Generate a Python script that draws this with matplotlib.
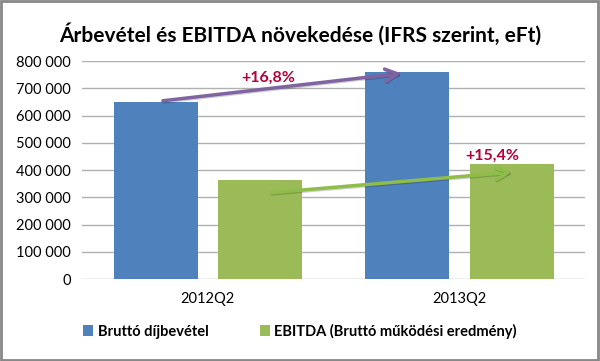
import matplotlib.pyplot as plt
import matplotlib.patheffects as pe
from matplotlib.patches import Rectangle

# adatok
categories = ["2012Q2", "2013Q2"]
revenue = [651000, 760000]
ebitda = [365000, 421000]
series_names = ["Bruttó díjbevétel", "EBITDA (Bruttó működési eredmény)"]
growth_labels = ["+16,8%", "+15,4%"]

# nyilak (kategória-egység, érték)
arrow_rev = [(-0.19, 653000), (0.78, 756000)]
arrow_ebitda = [(0.24, 316000), (1.22, 393000)]

blue = "#4f81bd"
green = "#9bbb59"

plt.rcParams["font.family"] = ["Lato", "DejaVu Sans"]

fig = plt.figure(figsize=(6, 3.61), dpi=100)
ax = fig.add_axes([0.137, 0.227, 0.838, 0.604])

x = range(len(categories))
w = 0.334
ax.bar([i - 0.208 for i in x], revenue, w, color=blue, label=series_names[0], zorder=2)
ax.bar([i + 0.208 for i in x], ebitda, w, color=green, label=series_names[1], zorder=2)

ax.set_xlim(-0.5, 1.5)
ax.set_ylim(0, 800000)
ax.set_yticks(range(0, 800001, 100000))
ax.set_yticklabels(["{:,}".format(v).replace(",", " ") for v in range(0, 800001, 100000)], fontsize=10.5)
ax.set_xticks(list(x))
ax.set_xticklabels(categories, fontsize=10.5)
ax.tick_params(axis="y", length=0, pad=8)
ax.tick_params(axis="x", length=0, pad=9)
ax.grid(axis="y", color="#b0b0b0", lw=1, zorder=0)
for s in ax.spines.values():
    s.set_visible(False)

shadow = [pe.SimpleLineShadow(offset=(0.6, -0.8), alpha=0.18), pe.Normal()]
ax.annotate("", xy=arrow_rev[1], xytext=arrow_rev[0],
            arrowprops=dict(arrowstyle="->", color="#8064a2", lw=2.5, mutation_scale=22,
                            path_effects=shadow), zorder=3)
ax.annotate("", xy=arrow_ebitda[1], xytext=arrow_ebitda[0],
            arrowprops=dict(arrowstyle="->", color="#8fbd4a", lw=2.5, mutation_scale=22,
                            path_effects=shadow), zorder=3)
ax.text(0.24, 738000, growth_labels[0], color="#b5003a", fontsize=11.5, fontweight="bold",
        ha="center", va="center", zorder=4)
ax.text(1.13, 452000, growth_labels[1], color="#b5003a", fontsize=11.5, fontweight="bold",
        ha="center", va="center", zorder=4)

fig.text(0.5, 0.905, "Árbevétel és EBITDA növekedése (IFRS szerint, eFt)",
         ha="center", va="center", fontsize=15, fontweight="bold")

fig.legend(loc="center", bbox_to_anchor=(0.5, 0.083), ncol=2, frameon=False,
           handlelength=0.7, handleheight=0.7, columnspacing=3.5,
           handletextpad=0.3, prop={"weight": "bold", "size": 10.5})

fig.add_artist(Rectangle((0.002, 0.003), 0.995, 0.993, transform=fig.transFigure,
                         fill=False, edgecolor="#888888", lw=2))

fig.savefig("out.png", dpi=100)
